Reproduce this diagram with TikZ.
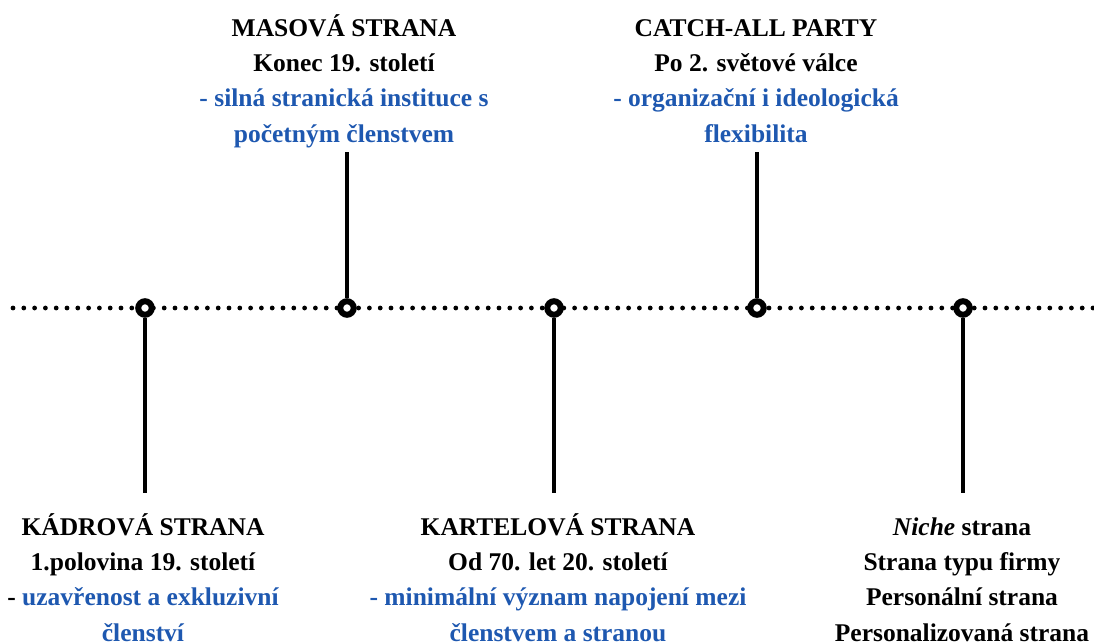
\documentclass[tikz,border=0pt]{standalone}
\usepackage{fontspec}
\setmainfont{Liberation Serif}
\definecolor{txtblue}{RGB}{30,88,176}
\newcommand{\fstrut}{\rule{0pt}{25pt}}
\tikzset{
  axisline/.style={line width=4.8pt, dash pattern=on 0pt off 10.8pt, line cap=round},
  stem/.style={line width=4pt},
  dotnode/.style={circle, draw, line width=6pt, fill=white, minimum size=13.5pt, inner sep=0pt},
  label/.style={align=center, inner sep=0pt, anchor=north,
    font=\fontsize{25.5pt}{35.3pt}\selectfont\bfseries}
}
\begin{document}
\begin{tikzpicture}[x=1pt,y=-1pt]
\useasboundingbox (0,0) rectangle (1094,644);
\coordinate (ls) at (13,308);
\coordinate (le) at (1100,308);
\draw[axisline] (ls) -- (le);

\coordinate (t1) at (145,493);
\coordinate (t2) at (347,152);
\coordinate (t3) at (554,493);
\coordinate (t4) at (757,152);
\coordinate (t5) at (963,493);

\node[dotnode] (c1) at (145,308) {};
\node[dotnode] (c2) at (347,308) {};
\node[dotnode] (c3) at (554,308) {};
\node[dotnode] (c4) at (757,308) {};
\node[dotnode] (c5) at (963,308) {};

\draw[stem] (c1.south) -- (t1);
\draw[stem] (c2.north) -- (t2);
\draw[stem] (c3.south) -- (t3);
\draw[stem] (c4.north) -- (t4);
\draw[stem] (c5.south) -- (t5);

\node[label] (masova) at (344,11) {\fstrut MASOVÁ STRANA\\Konec 19. století\\
  \textcolor{txtblue}{- silná stranická instituce s}\\\textcolor{txtblue}{početným členstvem}};
\node[label] (catch) at (756,11) {\fstrut CATCH-ALL PARTY\\Po 2. světové válce\\
  \textcolor{txtblue}{- organizační i ideologická}\\\textcolor{txtblue}{flexibilita}};
\node[label] (kadr) at (143,510) {\fstrut KÁDROVÁ STRANA\\1.polovina 19. století\\
  - \textcolor{txtblue}{uzavřenost a exkluzivní}\\\textcolor{txtblue}{členství}};
\node[label] (kart) at (558,510) {\fstrut KARTELOVÁ STRANA\\Od 70. let 20. století\\
  \textcolor{txtblue}{- minimální význam napojení mezi}\\\textcolor{txtblue}{členstvem a stranou}};
\node[label] (niche) at (962,510) {\fstrut\textit{Niche} strana\\Strana typu firmy\\
  Personální strana\\Personalizovaná strana};
\end{tikzpicture}
\end{document}
